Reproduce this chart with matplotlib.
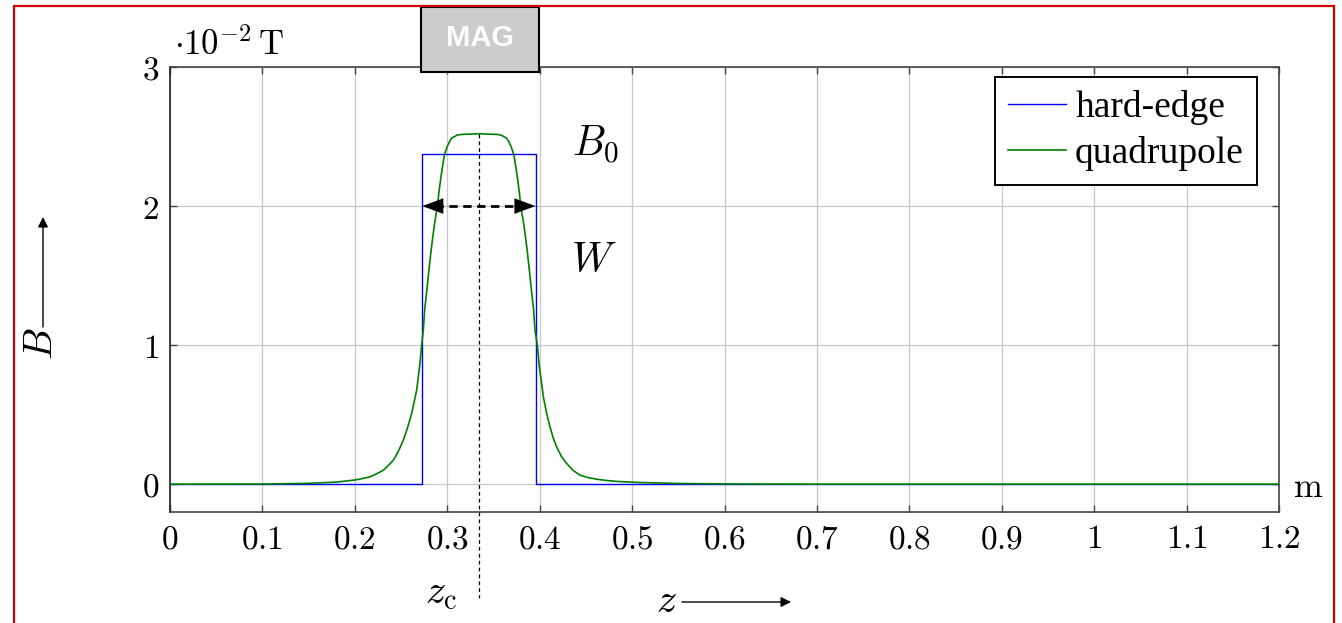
import matplotlib
matplotlib.use("Agg")
import matplotlib.pyplot as plt
from matplotlib.patches import Rectangle, FancyArrowPatch

plt.rcParams['mathtext.fontset'] = 'cm'
plt.rcParams['font.family'] = ['DejaVu Serif']

# ---- data ----
hard_z = [0.0, 0.2729, 0.2729, 0.3955, 0.3955, 1.2]
hard_B = [0.0, 0.0, 2.374, 2.374, 0.0, 0.0]

quad_z = [0.0, 0.10, 0.15, 0.18, 0.20, 0.208, 0.2164, 0.2236, 0.2308, 0.236,
          0.2417, 0.247, 0.2525, 0.257, 0.2615, 0.264, 0.2669, 0.2705, 0.2723,
          0.2741, 0.2755, 0.278, 0.280, 0.282, 0.284, 0.286, 0.2893, 0.291,
          0.293, 0.295, 0.297, 0.300, 0.303, 0.305, 0.308, 0.3105, 0.315,
          0.3345,
          0.354, 0.3585, 0.361, 0.364, 0.366, 0.369, 0.372, 0.374, 0.376,
          0.378, 0.3795, 0.383, 0.385, 0.387, 0.389, 0.391, 0.3935, 0.3949,
          0.3975, 0.3996, 0.402, 0.404, 0.4075, 0.4112, 0.4145, 0.4184, 0.4235,
          0.4292, 0.436, 0.4436, 0.452, 0.4617, 0.472, 0.4833, 0.5086, 0.55,
          0.60, 0.70, 1.2]
quad_B = [0.0, 0.001, 0.006, 0.015, 0.03, 0.04, 0.053, 0.075, 0.10, 0.133,
          0.173, 0.235, 0.317, 0.405, 0.509, 0.585, 0.676, 0.868, 1.0,
          1.108, 1.25, 1.40, 1.53, 1.65, 1.76, 1.86, 2.0, 2.10,
          2.2, 2.29, 2.37, 2.43, 2.47, 2.49, 2.50, 2.51, 2.515,
          2.52,
          2.515, 2.51, 2.50, 2.49, 2.47, 2.43, 2.37, 2.29, 2.2,
          2.10, 2.0, 1.86, 1.76, 1.65, 1.53, 1.40, 1.25, 1.108,
          1.0, 0.844, 0.73, 0.628, 0.51, 0.412, 0.335, 0.268, 0.20,
          0.149, 0.10, 0.065, 0.048, 0.036, 0.027, 0.02, 0.012, 0.005,
          0.002, 0.0, 0.0]

z_c = 0.3345
B_peak = 2.52
W_left, W_right, W_level = 0.2729, 0.3955, 2.0

x_ticks = [0, 0.1, 0.2, 0.3, 0.4, 0.5, 0.6, 0.7, 0.8, 0.9, 1.0, 1.1, 1.2]
x_tick_labels = ['0', '0.1', '0.2', '0.3', '0.4', '0.5', '0.6', '0.7', '0.8',
                 '0.9', '1', '1.1', '1.2']
y_ticks = [0, 1, 2, 3]
y_tick_labels = ['0', '1', '2', '3']

W_PX, H_PX = 1342, 623
fig = plt.figure(figsize=(W_PX / 100, H_PX / 100), dpi=100)

def fx(px):
    return px / W_PX

def fy(py):
    return 1 - py / H_PX

ax = fig.add_axes([fx(170), fy(512), fx(1279) - fx(170), fy(67) - fy(512)])
ax.set_xlim(0, 1.2)
ax.set_ylim(-0.2, 3)

ax.plot(hard_z, hard_B, color='#0000ff', lw=1.0, label='hard-edge', zorder=3)
ax.plot(quad_z, quad_B, color='#008000', lw=1.2, label='quadrupole', zorder=4)

ax.set_xticks(x_ticks)
ax.set_xticklabels(['$' + s + '$' for s in x_tick_labels])
ax.set_yticks(y_ticks)
ax.set_yticklabels(['$' + s + '$' for s in y_tick_labels])
ax.tick_params(axis='both', direction='in', length=5, width=1.0, color='#444444',
               labelsize=24, top=True, right=True, pad=8)
ax.grid(True, color='#c8c8c8', lw=0.9)
for s in ax.spines.values():
    s.set_color('#444444')
    s.set_linewidth(1.2)
ax.spines['left'].set_color('#222222')

# center dashed line (extends below the axes)
ax.plot([z_c, z_c], [B_peak, -0.815], color='k', lw=0.9, ls=(0, (3, 2.5)),
        clip_on=False, zorder=5)

# W double arrow
ax.plot([W_left + 0.014, W_right - 0.014], [W_level, W_level], color='k', lw=2.0,
        ls=(0, (3, 2)), zorder=6)
for end, start in [(W_left, W_left + 0.03), (W_right, W_right - 0.03)]:
    ax.annotate('', xy=(end, W_level), xytext=(start, W_level),
                arrowprops=dict(arrowstyle='-|>,head_length=1.5,head_width=0.55',
                                color='k', lw=0.1, shrinkA=0, shrinkB=0), zorder=6)

# labels B0 and W
fig.text(fx(572), fy(145), r'$B_0$', fontsize=30, ha='left', va='center')
fig.text(fx(571), fy(260), r'$W$', fontsize=30, ha='left', va='center')

leg = ax.legend(loc='upper right', bbox_to_anchor=(fx(1257), fy(77)),
                bbox_transform=fig.transFigure, borderaxespad=0,
                prop={'family': 'Liberation Serif', 'size': 27},
                frameon=True, fancybox=False, edgecolor='k', framealpha=1,
                handlelength=1.55, handletextpad=0.25, borderpad=0.35,
                labelspacing=0.3)
leg.get_frame().set_linewidth(1.4)
leg.set_zorder(10)

# unit labels
fig.text(fx(174), fy(55), r'$\cdot 10^{-2}\,\mathrm{T}$', fontsize=25,
         ha='left', va='baseline')
fig.text(fx(1293), fy(497), r'$\mathrm{m}$', fontsize=25, ha='left', va='baseline')

# axis labels with arrows
fig.text(fx(441), fy(594), r'$z_\mathrm{c}$', fontsize=29, ha='center', va='center')
fig.text(fx(666), fy(601), r'$z$', fontsize=29, ha='center', va='center')
fig.add_artist(FancyArrowPatch(
    (fx(682), fy(602)), (fx(791), fy(602)), transform=fig.transFigure,
    arrowstyle='-|>,head_length=6,head_width=3', color='k', lw=1.0,
    shrinkA=0, shrinkB=0))
fig.text(fx(41), fy(344), r'$B$', fontsize=29, ha='center', va='center',
         rotation=90)
fig.add_artist(FancyArrowPatch(
    (fx(43), fy(327)), (fx(43), fy(217)), transform=fig.transFigure,
    arrowstyle='-|>,head_length=6,head_width=3', color='k', lw=1.0,
    shrinkA=0, shrinkB=0))

# MAG box
fig.add_artist(Rectangle((fx(421), fy(72)), fx(539) - fx(421), fy(7) - fy(72),
                         transform=fig.transFigure, facecolor='#cccccc',
                         edgecolor='k', lw=1.5, zorder=20))
fig.text(fx(480), fy(38), 'MAG', family='Liberation Sans', weight='bold',
         fontsize=21, color='white', ha='center', va='center', zorder=21)

# red frame
fig.add_artist(Rectangle((fx(14), -0.05), fx(1334) - fx(14), fy(6) + 0.05,
                         transform=fig.transFigure, facecolor='none',
                         edgecolor='#cc0000', lw=1.6, zorder=30))

fig.savefig('out.png', dpi=100)
